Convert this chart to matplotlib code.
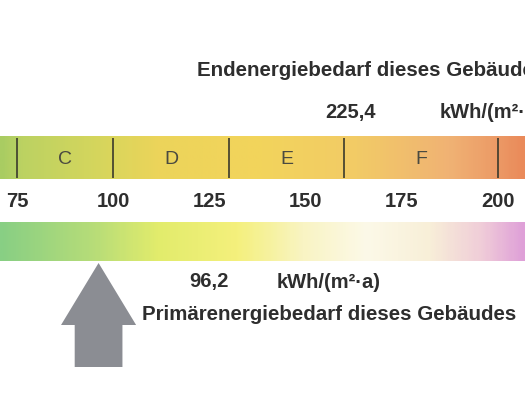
import numpy as np
import matplotlib.pyplot as plt
from matplotlib.colors import LinearSegmentedColormap

# scale values (kWh/(m²·a))
tick_values = [75, 100, 125, 150, 175, 200]
class_bounds = [75, 100, 130, 160, 200]
class_names = ["C", "D", "E", "F"]
end_energy = 225.4
primary_energy = 96.2
unit = "kWh/(m²·a)"

# visible window of the scale
x_min, x_max = 70.6, 206.95

top_colors = [(0.0, "#a9cc62"), (0.04, "#bcd262"), (0.2, "#d8d65c"),
              (0.3, "#ecd45a"), (0.5, "#f3d45c"), (0.68, "#f2cb66"),
              (0.86, "#f0b274"), (0.95, "#ec9a66"), (1.0, "#ea8a5a")]
bottom_colors = [(0.0, "#88cf84"), (0.18, "#b8dd78"), (0.3, "#e2ec6c"),
                 (0.45, "#f4f07c"), (0.58, "#f9f4c4"), (0.7, "#fcf9e8"),
                 (0.82, "#f8efd8"), (0.92, "#f0cdd8"), (1.0, "#dfa0d8")]

fig = plt.figure(figsize=(5.25, 3.94), dpi=100)
ax = fig.add_axes([0, 0, 1, 1])
ax.set_xlim(x_min, x_max)
ax.set_ylim(394, 0)
ax.axis("off")

grad = np.linspace(0, 1, 300).reshape(1, -1)
cm_top = LinearSegmentedColormap.from_list("top", top_colors)
cm_bot = LinearSegmentedColormap.from_list("bot", bottom_colors)
ax.imshow(grad, cmap=cm_top, aspect="auto", extent=(x_min, x_max, 179, 137), zorder=1)
ax.imshow(grad, cmap=cm_bot, aspect="auto", extent=(x_min, x_max, 261, 222), zorder=1)

# class dividers and letters
ax.vlines(class_bounds, 138, 178, color="#3b3a2c", lw=1.2, zorder=2)
for lo, hi, name in zip(class_bounds[:-1], class_bounds[1:], class_names):
    ax.text((lo + hi) / 2, 159, name, ha="center", va="center",
            fontsize=14, color="#4a4a40", family="Liberation Sans")

for v in tick_values:
    ax.text(v, 201, str(v), ha="center", va="center", fontsize=14.5,
            fontweight="bold", color="#2e2e2e", family="Liberation Sans")

# arrow for the primary energy value
ax.arrow(primary_energy, 367, 0, -104, width=12.4, head_width=19.5,
         head_length=62, length_includes_head=True, color="#8b8d93", lw=0, zorder=3)

fmt = lambda v: f"{v:.1f}".replace(".", ",")
txt = dict(fontweight="bold", color="#2e2e2e", family="Liberation Sans", va="center")

ax.text(121.8, 70, "Endenergiebedarf dieses Gebäudes", fontsize=14.8, ha="left", **txt)
ax.text(161.5, 112, fmt(end_energy), fontsize=14.5, ha="center", **txt)
ax.text(184.9, 112, unit, fontsize=14.5, ha="left", **txt)

ax.text(124.9, 282, fmt(primary_energy), fontsize=14.5, ha="center", **txt)
ax.text(142.5, 282, unit, fontsize=14.5, ha="left", **txt)
ax.text(107.5, 315, "Primärenergiebedarf dieses Gebäudes", fontsize=14.8, ha="left", **txt)

fig.savefig("out.png", dpi=100)
